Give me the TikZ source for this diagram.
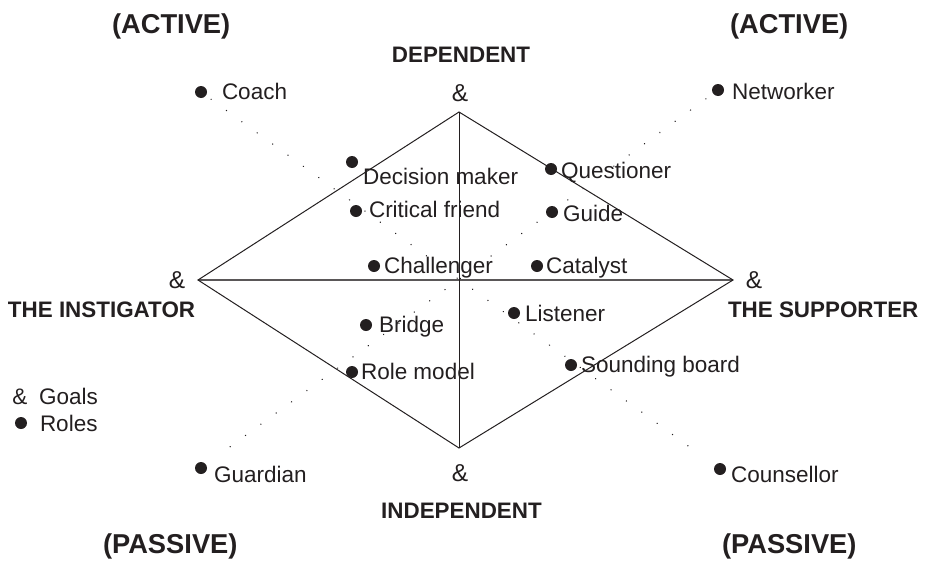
\documentclass[tikz,border=0pt]{standalone}
\usepackage{fontspec}
\setmainfont{Liberation Sans}
\definecolor{ink}{HTML}{231F20}
\begin{document}
\begin{tikzpicture}[x=1pt,y=-1pt,
  every node/.style={inner sep=0pt,outer sep=0pt,text=ink},
  roledot/.style={circle,fill=ink,draw=none,minimum size=12pt},
  rolelabel/.style={anchor=base west,font=\fontsize{22.5}{27}\selectfont},
  goalmark/.style={anchor=base,font=\fontsize{24.5}{29}\selectfont},
  keymark/.style={anchor=base,font=\fontsize{22.5}{27}\selectfont},
  axislabel/.style={anchor=base,font=\fontsize{22.4}{27}\selectfont\bfseries},
  sidelabel/.style={anchor=base west,font=\fontsize{22.4}{27}\selectfont\bfseries},
  modelabel/.style={anchor=base west,font=\fontsize{27.3}{32}\selectfont\bfseries},
  edge/.style={draw=ink,line width=1pt},
  axis/.style={draw=ink!75,line width=1.4pt},
  dotline/.style={draw=ink,line width=1.5pt,line cap=round,dash pattern=on 0.01pt off 19pt}]
\useasboundingbox (0,0) rectangle (925,562);

% corners of the diamond
\coordinate (T) at (459,112);
\coordinate (L) at (198,280);
\coordinate (R) at (733,280);
\coordinate (B) at (459,448);

% diamond and its axes
\draw[axis] (L) -- (R);
\draw[edge] (T) -- (B);
\draw[edge,line join=miter] (L) -- (T) -- (R) -- (B) -- cycle;

% goals at the corners
\node[goalmark] (gT) at (460,101.5) {\&};
\node[goalmark] (gL) at (177,288.5) {\&};
\node[goalmark] (gR) at (754,288.5) {\&};
\node[goalmark] (gB) at (460,481) {\&};

% axis names
\node[axislabel] (dep) at (461,62) {DEPENDENT};
\node[axislabel] (indep) at (461.5,518) {INDEPENDENT};
\node[sidelabel] (instig) at (8,317) {THE INSTIGATOR};
\node[sidelabel] (supp) at (728,317) {THE SUPPORTER};

% active / passive
\node[modelabel] (actL) at (112,33) {(ACTIVE)};
\node[modelabel] (actR) at (730,33) {(ACTIVE)};
\node[modelabel] (pasL) at (103,553) {(PASSIVE)};
\node[modelabel] (pasR) at (722,553) {(PASSIVE)};

% roles
\node[roledot] (coach) at (201,92) {};
\node[rolelabel] at (222,99.5) {Coach};
\node[roledot] (networker) at (718,90) {};
\node[rolelabel] at (732,99) {Networker};
\node[roledot] (decision) at (352,162) {};
\node[rolelabel] at (363,184) {Decision maker};
\node[roledot] (questioner) at (551,169) {};
\node[rolelabel] at (561,178.5) {Questioner};
\node[roledot] (critical) at (356,211) {};
\node[rolelabel] at (369,217.5) {Critical friend};
\node[roledot] (guide) at (552,212) {};
\node[rolelabel] at (563,221) {Guide};
\node[roledot] (challenger) at (374,266) {};
\node[rolelabel] at (384,273.5) {Challenger};
\node[roledot] (catalyst) at (537,266) {};
\node[rolelabel] at (546,273.5) {Catalyst};
\node[roledot] (bridge) at (366,325) {};
\node[rolelabel] at (379,332) {Bridge};
\node[roledot] (listener) at (514,313) {};
\node[rolelabel] at (525,321) {Listener};
\node[roledot] (rolemodel) at (352,372) {};
\node[rolelabel] at (361,379.5) {Role model};
\node[roledot] (sounding) at (571,365) {};
\node[rolelabel] at (581,372.5) {Sounding board};
\node[roledot] (guardian) at (201,468) {};
\node[rolelabel] at (214,482.5) {Guardian};
\node[roledot] (counsellor) at (720,469) {};
\node[rolelabel] at (731,482.5) {Counsellor};

% dotted diagonals
\draw[dotline,shorten <=6.5pt,shorten >=24.5pt] (coach) -- (counsellor);
\draw[dotline,shorten <=9pt,shorten >=21pt] (networker) -- (guardian);

% key
\node[keymark] (keyg) at (20,404) {\&};
\node[rolelabel] at (39,404) {Goals};
\node[roledot] (keyr) at (21,423) {};
\node[rolelabel] at (40,431) {Roles};
\end{tikzpicture}
\end{document}
